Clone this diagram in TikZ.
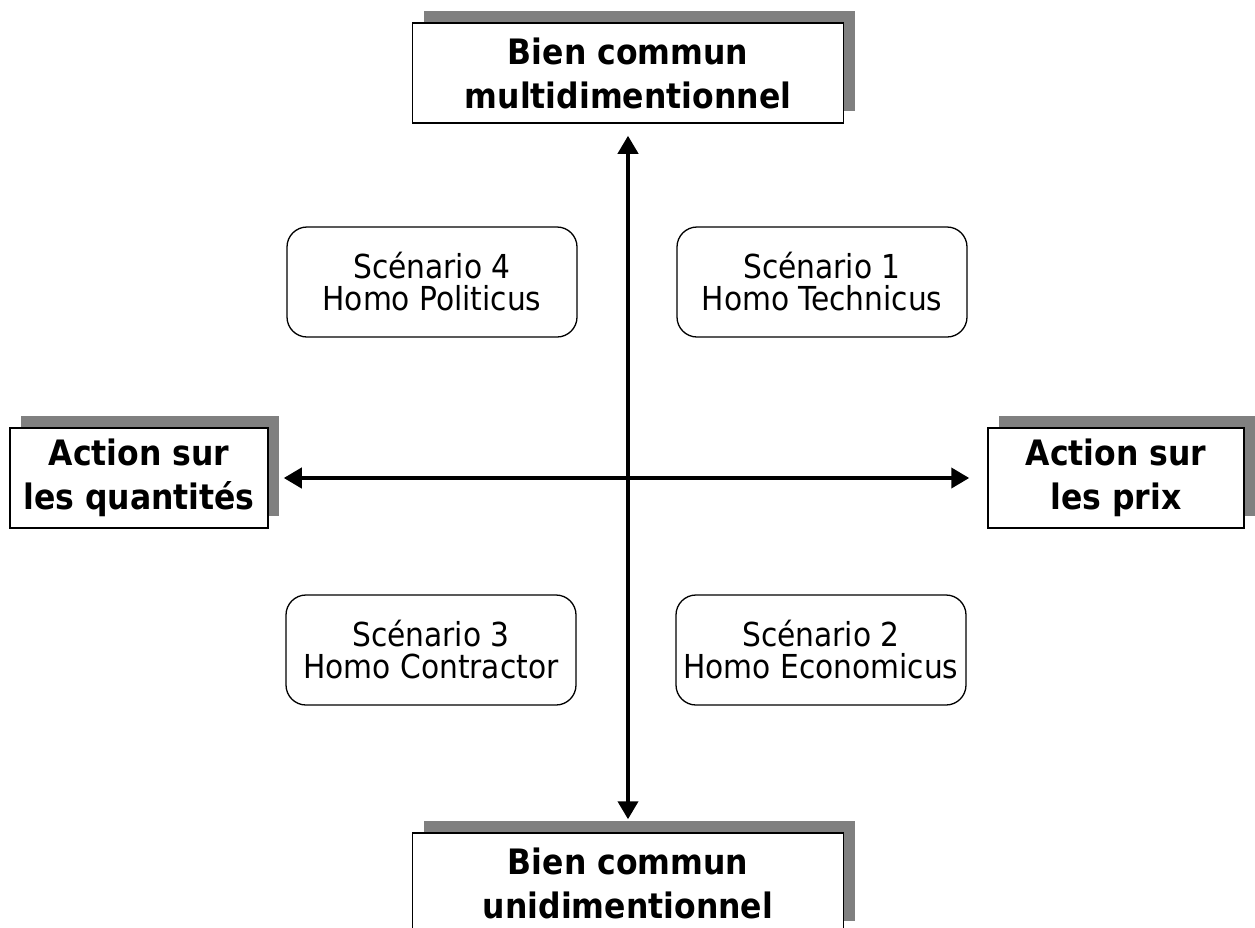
\documentclass[tikz,border=0pt]{standalone}
\usepackage{fontspec}
\setmainfont{DejaVu Sans Condensed}
\usetikzlibrary{arrows.meta,shadows}
\definecolor{shadowgray}{HTML}{808080}
\tikzset{
  axisbox/.style={draw,line width=1.5pt,fill=white,minimum height=100pt,align=center,
    font=\fontsize{35}{44}\selectfont\bfseries,
    general shadow={fill=shadowgray,shadow xshift=11pt,shadow yshift=12pt}},
  scenbox/.style={draw,line width=1.3pt,rounded corners=20pt,minimum width=290pt,minimum height=110pt,
    align=center,font=\fontsize{33}{32}\selectfont},
  axis/.style={line width=4pt,{Triangle[length=18pt,width=20pt]}-{Triangle[length=18pt,width=20pt]}}
}
\begin{document}
\begin{tikzpicture}[x=1pt,y=1pt]
\useasboundingbox (0,0) rectangle (1255,-927);
%poles
\node[axisbox,minimum width=431pt] (multi) at (628,-73) {Bien commun\\multidimentionnel};
\node[axisbox,minimum width=431pt] (uni) at (628,-883) {Bien commun\\unidimentionnel};
\node[axisbox,minimum width=258pt] (quant) at (139,-478) {Action sur\\les quantités};
\node[axisbox,minimum width=256pt] (prix) at (1116,-478) {Action sur\\les prix};
%scenarios
\node[scenbox] (s4) at (432,-282) {Scénario 4\\Homo Politicus};
\node[scenbox] (s1) at (822,-282) {Scénario 1\\Homo Technicus};
\node[scenbox] (s3) at (431,-650) {Scénario 3\\Homo Contractor};
\node[scenbox] (s2) at (821,-650) {Scénario 2\\Homo Economicus};
%axes
\draw[axis,shorten <=12pt,shorten >=13pt] (multi.south) -- (uni.north);
\draw[axis,shorten <=15pt,shorten >=18pt] (quant.east) -- (prix.west);
\end{tikzpicture}
\end{document}
